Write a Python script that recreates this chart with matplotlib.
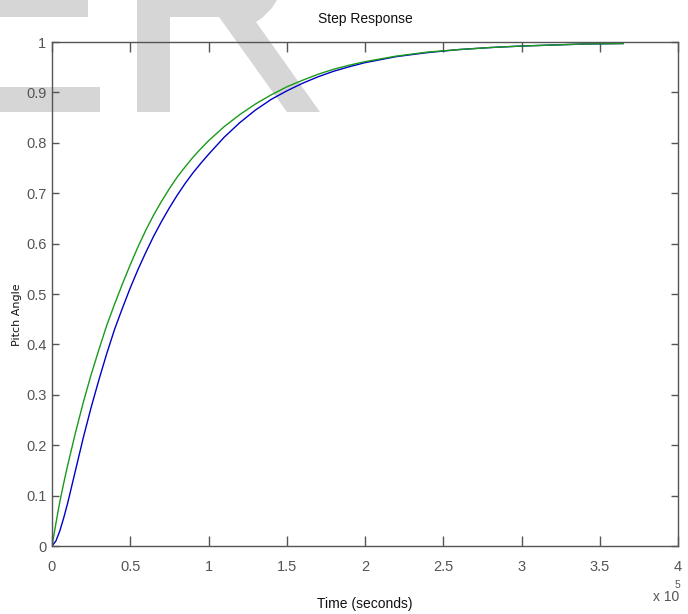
import matplotlib
matplotlib.use("Agg")
import matplotlib.pyplot as plt
from matplotlib.patches import Polygon

# ---- data (time in units of 1e5 s) ----
t_vals = [0, 0.025, 0.05, 0.075, 0.1, 0.15, 0.2, 0.25, 0.3, 0.35, 0.4, 0.45, 0.5,
          0.55, 0.6, 0.65, 0.7, 0.75, 0.8, 0.85, 0.9, 0.95, 1.0, 1.1, 1.2, 1.3,
          1.4, 1.5, 1.6, 1.7, 1.8, 1.9, 2.0, 2.2, 2.4, 2.6, 2.8, 3.0, 3.2, 3.4, 3.65]
green_vals = [0, 0.045, 0.088, 0.125, 0.16, 0.225, 0.285, 0.34, 0.39, 0.438, 0.48, 0.52, 0.558,
              0.594, 0.627, 0.657, 0.684, 0.709, 0.732, 0.752, 0.771, 0.788, 0.804, 0.832, 0.856, 0.877,
              0.895, 0.911, 0.924, 0.936, 0.946, 0.954, 0.961, 0.972, 0.980, 0.985, 0.989, 0.992, 0.994, 0.996, 0.997]
blue_vals = [0, 0.01, 0.03, 0.056, 0.085, 0.15, 0.215, 0.275, 0.33, 0.382, 0.43, 0.472, 0.512,
             0.549, 0.583, 0.615, 0.644, 0.671, 0.696, 0.719, 0.740, 0.759, 0.777, 0.811, 0.840, 0.865,
             0.886, 0.903, 0.918, 0.931, 0.942, 0.951, 0.959, 0.971, 0.979, 0.985, 0.989, 0.992, 0.994, 0.996, 0.997]
x_ticks = [0, 0.5, 1, 1.5, 2, 2.5, 3, 3.5, 4]
x_tick_labels = ["0", "0.5", "1", "1.5", "2", "2.5", "3", "3.5", "4"]
y_ticks = [0, 0.1, 0.2, 0.3, 0.4, 0.5, 0.6, 0.7, 0.8, 0.9, 1]
y_tick_labels = ["0", "0.1", "0.2", "0.3", "0.4", "0.5", "0.6", "0.7", "0.8", "0.9", "1"]

W, H = 688, 614
fig = plt.figure(figsize=(W / 100, H / 100), dpi=100)
fig.patch.set_facecolor("white")

narrow = ["Liberation Sans", "DejaVu Sans"]

# ---- watermark (pixel coords, y down) ----
def px(pts):
    return [(x / W, 1 - y / H) for x, y in pts]

wm_color = "#d6d6d6"
shapes = [
    [(0, -5), (88, -5), (88, 17), (0, 17)],                 # E middle bar (cut)
    [(0, 87), (100, 87), (100, 112), (0, 112)],             # E bottom bar
    [(137, -5), (280, -5), (272, 8), (262, 18), (256, 22), (320, 112), (287, 112),
     (219, 17), (170, 17), (170, 112), (137, 112)],         # R lower part
]
for s in shapes:
    fig.patches.append(Polygon(px(s), closed=True, transform=fig.transFigure,
                               facecolor=wm_color, edgecolor="none", zorder=0))

ax = fig.add_axes([52 / W, 1 - 546 / H, 626 / W, 504 / H])
ax.patch.set_alpha(0)
ax.set_zorder(1)

ax.plot(t_vals, blue_vals, color="#0000c8", lw=1.0)
ax.plot(t_vals, green_vals, color="#1a9a1a", lw=1.0)

ax.set_xlim(0, 4)
ax.set_ylim(0, 1)
ax.set_xticks(x_ticks)
ax.set_xticklabels(x_tick_labels)
ax.set_yticks(y_ticks)
ax.set_yticklabels(y_tick_labels)

for sp in ax.spines.values():
    sp.set_color("#555555")
    sp.set_linewidth(1.0)

ax.tick_params(axis="x", direction="in", length=7.5, width=1.0, color="#555555",
               top=True, bottom=True, pad=10, labelsize=10.5, labelcolor="#555555")
ax.tick_params(axis="y", direction="in", length=5, width=1.0, color="#555555",
               left=True, right=True, pad=4, labelsize=10.5, labelcolor="#555555")
for lab in ax.get_xticklabels() + ax.get_yticklabels():
    lab.set_family(narrow)

ax.set_title("Step Response", family=narrow, fontsize=10, color="#111111", pad=14)
fig.text(365 / W, 1 - 604 / H, "Time (seconds)", family=narrow, fontsize=10,
         color="#111111", ha="center", va="center")
fig.text(17 / W, 1 - 315 / H, "Pitch Angle", family=["DejaVu Sans"], fontsize=8,
         color="#111111", ha="center", va="center", rotation=90)

fig.text(653 / W, 1 - 597 / H, "x 10", family=narrow, fontsize=10, color="#555555",
         ha="left", va="center")
fig.text(675 / W, 1 - 585 / H, "5", family=narrow, fontsize=7.5, color="#555555",
         ha="left", va="center")

fig.savefig("out.png", dpi=100)
